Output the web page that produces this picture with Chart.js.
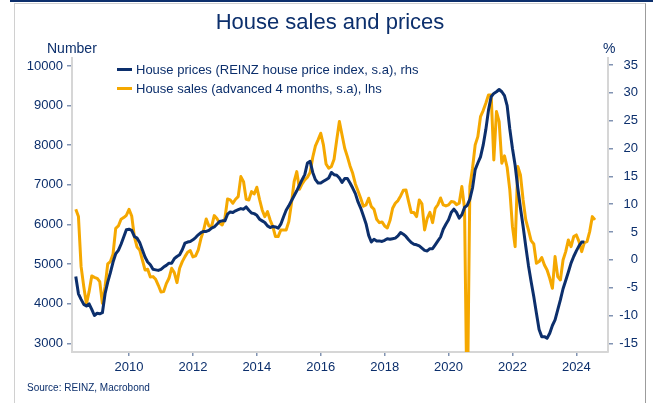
<!DOCTYPE html>
<html>
<head>
<meta charset="utf-8">
<script src="https://cdn.jsdelivr.net/npm/chart.js@4.4.1/dist/chart.umd.min.js"></script>
<style>
  body { margin: 0; width: 653px; height: 403px; overflow: hidden; position: relative; background: #fff;
         font-family: 'Liberation Sans', Arial, sans-serif; color: #0c2f6c; }
  #frame { position: absolute; left: 14px; top: 3px; width: 630px; height: 430px;
           border: 1px solid #d0d0d0; border-right-color: #9c9c9c; }
  #bar { position: absolute; left: 10px; top: 0; width: 643px; height: 2px; background: #0c2f6c; }
  canvas { position: absolute; left: 0; top: 0; }
  .txt { position: absolute; white-space: nowrap; }
  .swatch { display: inline-block; width: 15px; height: 3px; margin-right: 4px; vertical-align: middle; position: relative; top: -1px; }
</style>
</head>
<body>
<div id="frame"></div>
<div id="bar"></div>
<canvas id="salesChart" width="653" height="403"></canvas>
<div class="txt" style="left:0; width:660px; text-align:center; top:9px; font-size:22px; line-height:26px;">House sales and prices</div>
<div class="txt" style="left:47px; top:40px; font-size:14px; line-height:16px;">Number</div>
<div class="txt" style="left:603px; top:40px; font-size:14px; line-height:16px;">%</div>
<div class="txt" style="left:117px; top:62px; font-size:13px; line-height:16px;"><span class="swatch" style="background:#0c2f6c"></span>House prices (REINZ house price index, s.a), rhs</div>
<div class="txt" style="left:117px; top:81px; font-size:13px; line-height:16px;"><span class="swatch" style="background:#f5a800"></span>House sales (advanced 4 months, s.a), lhs</div>
<div class="txt" style="left:27px; top:382px; font-size:10px; line-height:12px;">Source: REINZ, Macrobond</div>

<script>
// monthly series, both starting May 2008
const startYear = 2008;
const startMonth = 5;

// house sales, advanced 4 months, s.a (number, lhs)
const houseSales = [
    6383, 6198, 4935, 4430, 3993, 4304, 4700, 4666, 4641, 4557,
    4009, 4430, 5003, 5062, 5255, 5903, 5962, 6131, 6173, 6232,
    6383, 6215, 5693, 5432, 5356, 5104, 4851, 4868, 4674, 4683,
    4615, 4464, 4296, 4304, 4506, 4641, 4893, 4784, 4531, 4893,
    5062, 5188, 5297, 5339, 5180, 5205, 5356, 5642, 5853, 6139,
    5962, 5945, 6223, 6148, 6038, 5988, 6156, 6644, 6619, 6535,
    6636, 6703, 7208, 7082, 6636, 6619, 6829, 6770, 6939, 6636,
    6366, 6198, 6324, 6114, 5946, 5693, 5693, 5861, 5861, 5861,
    6072, 6535, 7082, 7334, 6888, 7023, 7124, 7191, 7309, 7696,
    7983, 8134, 8303, 8008, 7528, 7419, 7461, 7646, 8134, 8597,
    8260, 7924, 7713, 7478, 7292, 7023, 6846, 6661, 6459, 6493,
    6661, 6451, 6383, 6131, 6046, 6063, 5962, 5912, 6097, 6408,
    6535, 6602, 6720, 6863, 6871, 6577, 6299, 6299, 6198, 6619,
    6518, 5861, 6156, 6307, 6046, 6408, 6501, 6669, 6493, 6467,
    6493, 6577, 6569, 6501, 6535, 6956, 6408, 1000, 6956, 7419,
    8008, 8218, 8723, 8875, 9060, 9271, 9271, 7629, 8850, 8597,
    7545, 7730, 7444, 6871, 5945, 5440, 7461, 7250, 6619, 6114,
    5861, 5592, 5508, 5019, 5062, 5163, 4977, 4851, 4641, 4388,
    5188, 4683, 4599, 5104, 5314, 5609, 5440, 5693, 5735, 5567,
    5314, 5541, 5567, 5819, 6198, 6114
];

// house prices, REINZ HPI annual % change, s.a (rhs)
const housePrices = [
    -3.0, -6.1, -7.1, -8.0, -8.3, -7.9, -8.9, -10.0, -9.6, -9.7,
    -9.5, -6.1, -4.0, -2.3, -0.4, 1.1, 1.7, 2.8, 4.1, 5.4,
    5.5, 5.3, 4.2, 3.9, 3.1, 1.8, 0.5, -0.4, -0.9, -1.7,
    -1.8, -1.9, -1.7, -1.3, -1.0, -0.6, -0.6, 0.2, 0.6, 0.9,
    1.8, 3.0, 3.2, 3.3, 3.6, 4.0, 4.5, 4.9, 5.1, 5.1,
    5.3, 5.7, 5.9, 6.4, 6.9, 7.0, 7.0, 8.2, 8.6, 8.5,
    8.8, 9.0, 9.2, 9.1, 9.5, 8.9, 8.4, 8.3, 8.0, 7.3,
    7.0, 6.7, 6.1, 5.8, 6.0, 5.9, 5.7, 6.4, 7.7, 8.9,
    9.7, 10.6, 11.5, 12.4, 13.4, 14.4, 15.3, 17.4, 17.7, 15.7,
    14.4, 13.8, 13.8, 14.1, 14.4, 14.7, 15.7, 15.3, 15.2, 14.7,
    13.9, 14.6, 14.6, 13.8, 12.9, 11.9, 10.4, 9.3, 7.9, 6.5,
    4.4, 3.2, 3.7, 3.4, 3.4, 3.3, 3.5, 3.8, 3.7, 3.8,
    3.9, 4.3, 4.9, 4.6, 4.2, 3.6, 3.1, 2.8, 2.7, 2.5,
    2.1, 1.7, 1.6, 2.0, 2.0, 2.7, 3.4, 4.1, 5.5, 6.4,
    7.2, 8.5, 9.1, 8.5, 7.5, 8.1, 9.4, 9.8, 10.9, 12.9,
    16.2, 17.4, 18.5, 20.6, 23.4, 26.9, 29.3, 29.9, 30.2, 30.6,
    30.2, 29.5, 27.7, 23.5, 20.0, 17.0, 12.9, 9.3, 6.0, 2.4,
    -1.0, -3.9, -6.6, -9.6, -12.5, -13.8, -13.8, -14.1, -13.2, -11.8,
    -10.8, -9.0, -7.2, -5.2, -3.7, -2.2, -0.6, 0.6, 1.6, 2.5,
    3.2, 3.2
];

const yearTicks = [2010, 2012, 2014, 2016, 2018, 2020, 2022, 2024];
const salesTicks = [3000, 4000, 5000, 6000, 7000, 8000, 9000, 10000];
const priceTicks = [-15, -10, -5, 0, 5, 10, 15, 20, 25, 30, 35];

const navy = '#0c2f6c';
const orange = '#f5a800';

function toPoints(values) {
    return values.map((v, i) => ({ x: startYear + (startMonth - 1 + i) / 12, y: v }));
}

Chart.defaults.font.family = "'Liberation Sans', Arial, sans-serif";
Chart.defaults.font.size = 13;
Chart.defaults.color = navy;

const axisGrid = { drawOnChartArea: false, drawTicks: true, tickLength: 5, color: '#8193b2', lineWidth: 1.5 };
const axisBorder = { display: true, color: '#d6d6d6', width: 2 };

const ctx = document.getElementById('salesChart').getContext('2d');
const salesChart = new Chart(ctx, {
    type: 'line',
    data: {
        datasets: [
            {
                label: 'House prices (REINZ house price index, s.a), rhs',
                data: toPoints(housePrices),
                yAxisID: 'yPrices',
                borderColor: navy,
                borderWidth: 3
            },
            {
                label: 'House sales (advanced 4 months, s.a), lhs',
                data: toPoints(houseSales),
                yAxisID: 'ySales',
                borderColor: orange,
                borderWidth: 3
            }
        ]
    },
    options: {
        responsive: false,
        animation: false,
        layout: { padding: { top: 58, bottom: 21, left: 0, right: 15 } },
        elements: { point: { radius: 0 }, line: { tension: 0, borderJoinStyle: 'round' } },
        plugins: { legend: { display: false }, tooltip: { enabled: false } },
        scales: {
            x: {
                type: 'linear',
                min: 2008.215,
                max: 2024.99,
                grid: { ...axisGrid, tickLength: 4 },
                border: axisBorder,
                afterBuildTicks: (scale) => { scale.ticks = yearTicks.map(v => ({ value: v })); },
                afterFit: (scale) => { scale.height = 30; },
                ticks: { padding: 4, maxRotation: 0, callback: (v) => String(v) }
            },
            ySales: {
                type: 'linear',
                position: 'left',
                min: 2780,
                max: 10202,
                grid: axisGrid,
                border: axisBorder,
                afterBuildTicks: (scale) => { scale.ticks = salesTicks.map(v => ({ value: v })); },
                afterFit: (scale) => { scale.width = 72; },
                ticks: { padding: 4, callback: (v) => String(v) }
            },
            yPrices: {
                type: 'linear',
                position: 'right',
                min: -16.56,
                max: 36.26,
                grid: axisGrid,
                border: axisBorder,
                afterBuildTicks: (scale) => { scale.ticks = priceTicks.map(v => ({ value: v })); },
                afterFit: (scale) => { scale.width = 30; },
                ticks: { padding: 5, crossAlign: 'far', callback: (v) => String(v) }
            }
        }
    }
});
</script>
</body>
</html>
